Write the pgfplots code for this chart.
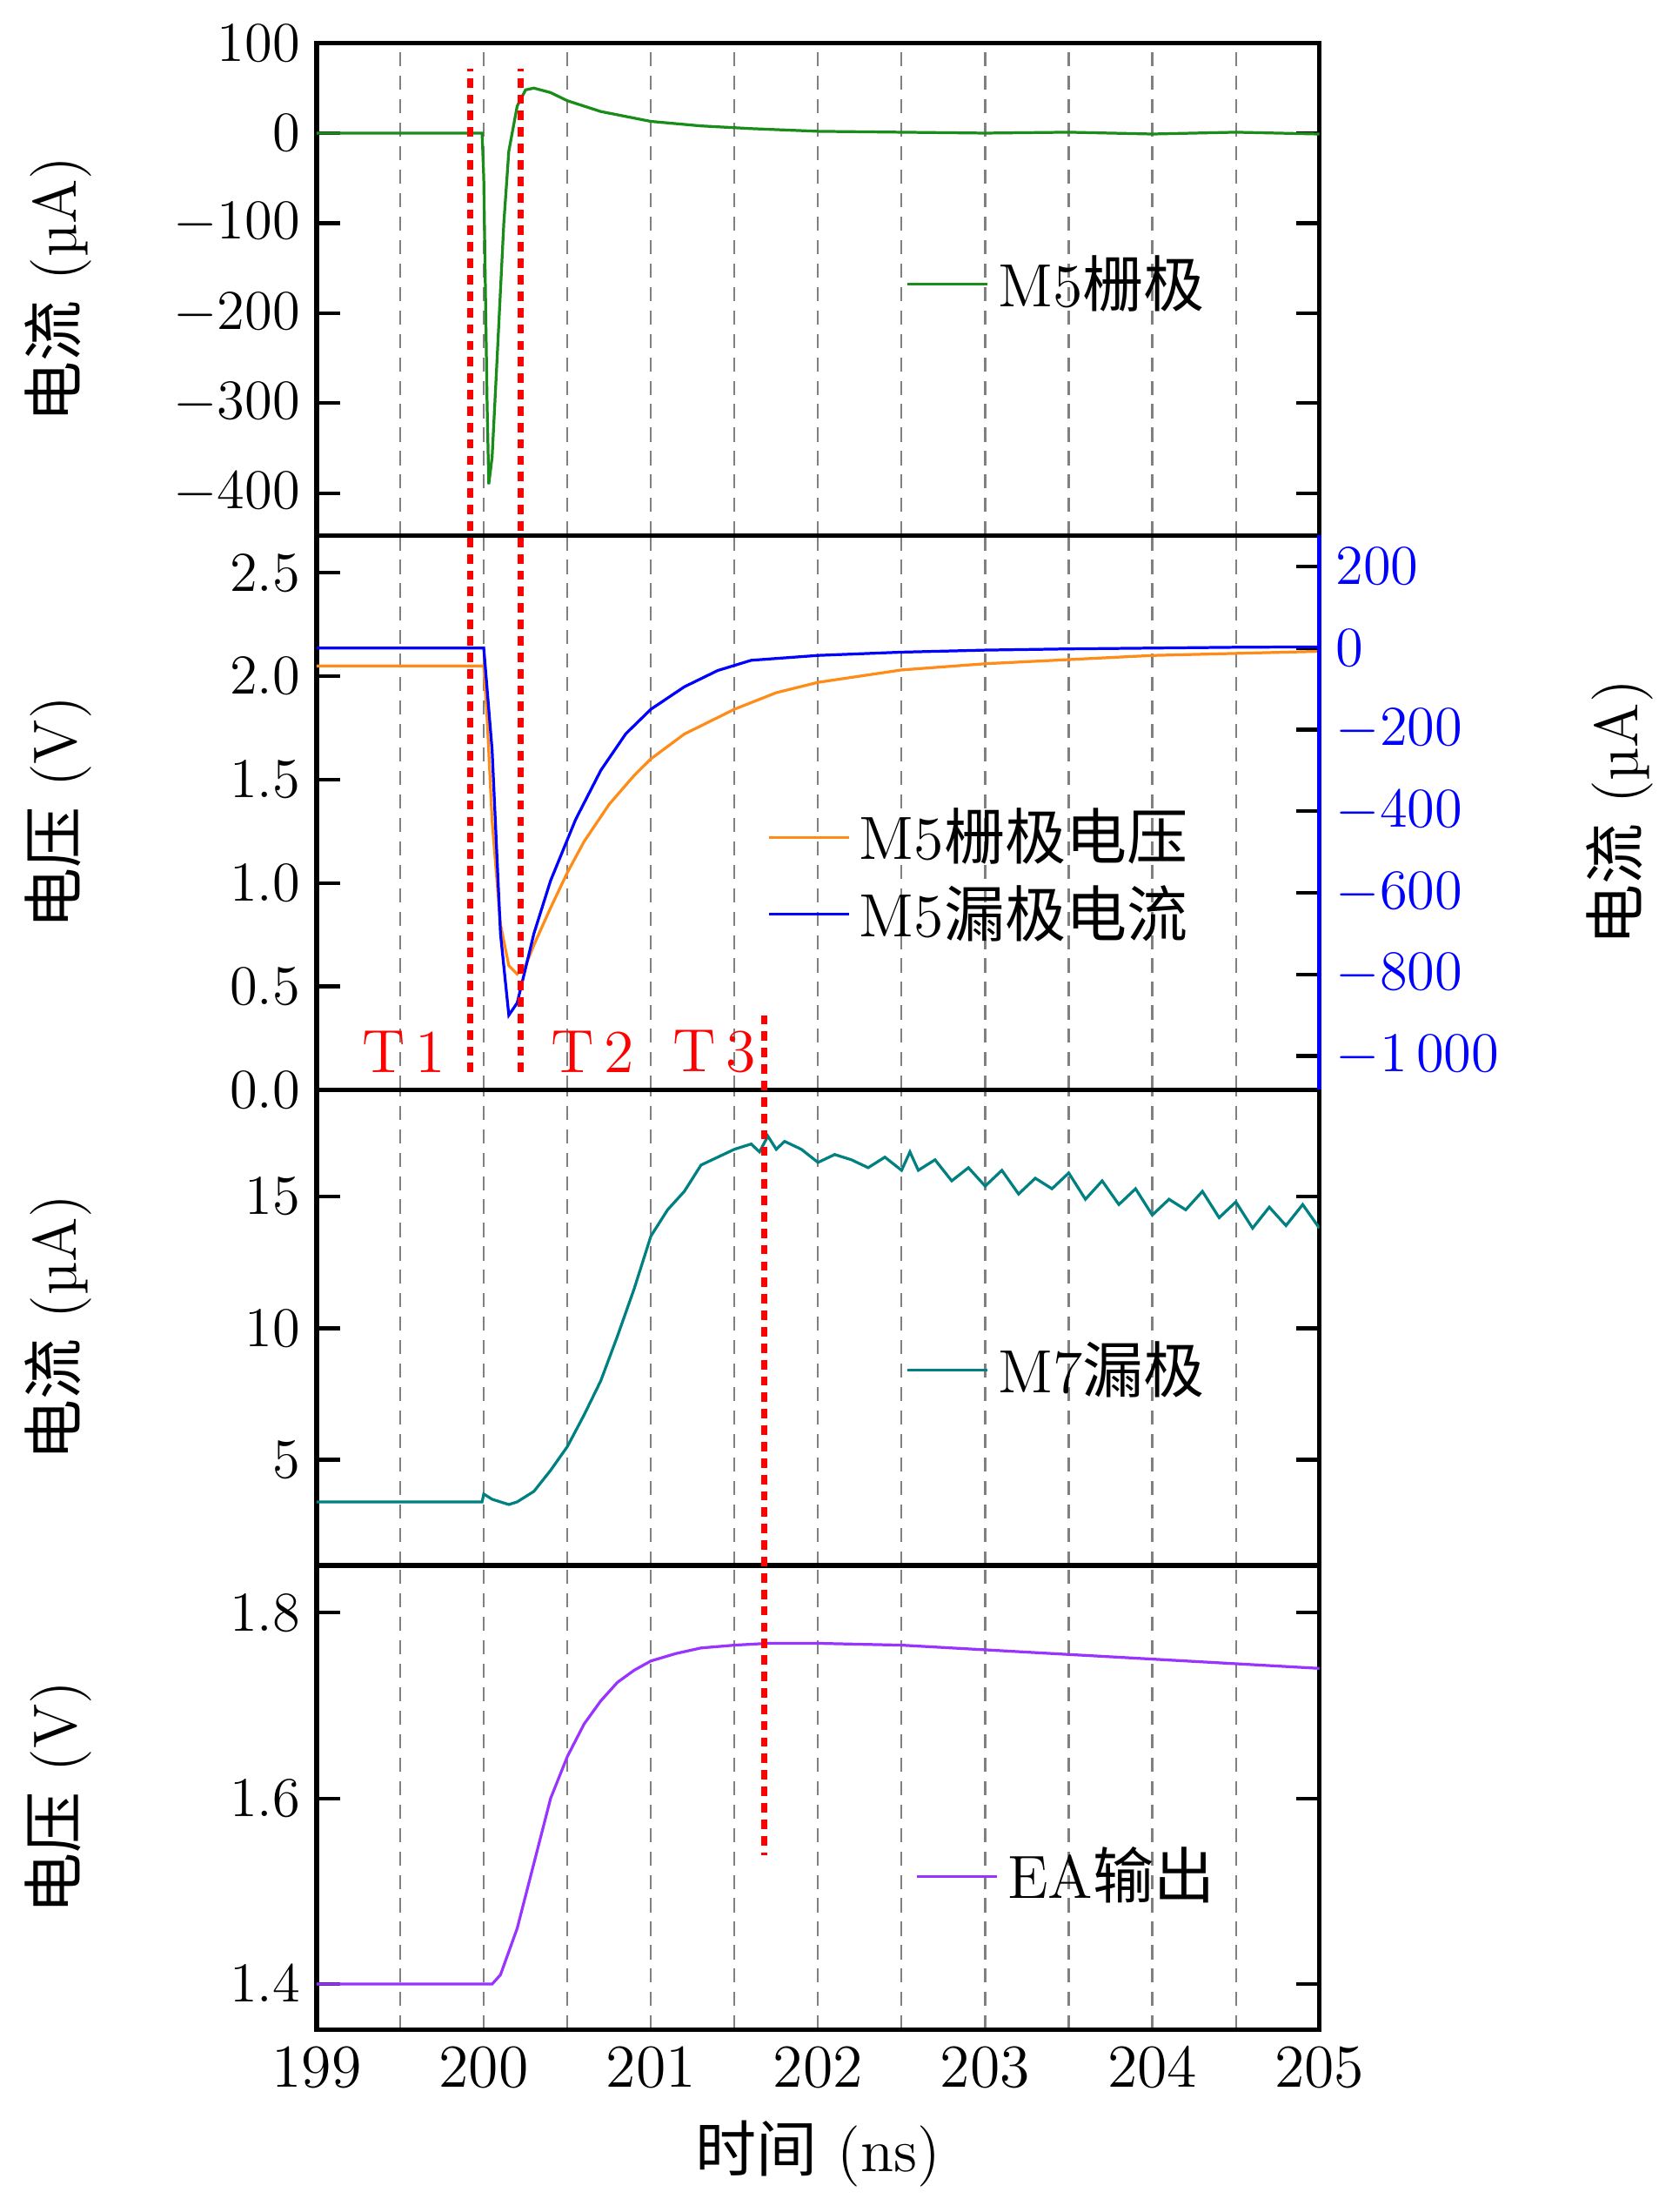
\documentclass[border=2pt]{standalone}
\usepackage{fontspec}
\usepackage{pgfplots}
\pgfplotsset{compat=1.18}
\newfontfamily\cjk{Noto Sans CJK SC}
\definecolor{cg}{rgb}{0.1,0.55,0.1}
\definecolor{co}{rgb}{1,0.55,0.1}
\definecolor{ct}{rgb}{0,0.5,0.5}
\definecolor{cp}{rgb}{0.6,0.2,1}
\begin{document}
\begin{tikzpicture}[font=\fontsize{13}{15}\selectfont]
\pgfplotsset{every axis/.style={scale only axis,width=213.9pt,xmin=199,xmax=205,
  axis line style={line width=1pt},tick style={line width=0.8pt,black},major tick length=5pt,
  xtick={199.5,200,...,204.5},xticklabels={},xmajorgrids,
  grid style={densely dashed,gray,thin},x tick style={draw=none},
  ylabel style={at={(axis description cs:-0.208,0.5)},rotate=0},
  legend style={draw=none,fill=none,font=\fontsize{13}{15}\selectfont,cells={anchor=west}},
  legend cell align=left}}
% Panel 4
\begin{axis}[name=p4,at={(0,0)},anchor=south west,height=99pt,ymin=1.351,ymax=1.851,
  ytick={1.4,1.6,1.8},yticklabel style={/pgf/number format/fixed,/pgf/number format/precision=1,/pgf/number format/fixed zerofill},
  ylabel={{\cjk 电压} (V)},
  extra x ticks={199,...,205},extra x tick labels={199,200,201,202,203,204,205},
  extra x tick style={grid=none,tick style={draw=none}},
  xlabel={{\cjk 时间} (ns)},
  legend style={at={(0.92,0.33)},anchor=east}]
\addplot[cp,semithick] coordinates {(199,1.4)(200.05,1.4)(200.1,1.41)(200.2,1.46)(200.3,1.53)(200.4,1.6)(200.5,1.645)(200.6,1.68)(200.7,1.705)(200.8,1.725)(200.9,1.738)(201,1.748)(201.15,1.756)(201.3,1.762)(201.5,1.765)(201.7,1.767)(202,1.767)(202.5,1.765)(203,1.76)(203.5,1.755)(204,1.75)(204.5,1.745)(205,1.74)};
\addlegendentry{EA{\cjk 输出}}
\end{axis}
% Panel 3
\begin{axis}[name=p3,at={(0,99pt)},anchor=south west,height=101.4pt,ymin=0.99,ymax=19.06,
  ytick={5,10,15},ylabel={{\cjk 电流} (µA)},
  legend style={at={(0.91,0.41)},anchor=east}]
\addplot[ct,semithick] coordinates {(199,3.4)(199.99,3.4)(200,3.7)(200.05,3.5)(200.1,3.4)(200.15,3.3)(200.2,3.4)(200.3,3.8)(200.4,4.6)(200.5,5.5)(200.6,6.7)(200.7,8)(200.8,9.7)(200.9,11.5)(201,13.5)(201.1,14.5)(201.2,15.2)(201.3,16.2)(201.4,16.5)(201.5,16.8)(201.6,17)(201.65,16.7)(201.7,17.3)(201.75,16.8)(201.8,17.1)(201.9,16.8)(202,16.3)(202.1,16.6)(202.2,16.4)(202.3,16.1)(202.4,16.5)(202.5,16)(202.55,16.7)(202.6,16)(202.7,16.4)(202.8,15.6)(202.9,16.1)(203,15.4)(203.1,16)(203.2,15.1)(203.3,15.7)(203.4,15.3)(203.5,15.9)(203.6,14.9)(203.7,15.6)(203.8,14.7)(203.9,15.3)(204,14.3)(204.1,14.9)(204.2,14.5)(204.3,15.2)(204.4,14.2)(204.5,14.8)(204.6,13.8)(204.7,14.6)(204.8,13.9)(204.9,14.7)(205,13.8)};
\addlegendentry{M7{\cjk 漏极}}
\end{axis}
% Panel 1
\begin{axis}[name=p1,at={(0,318.6pt)},anchor=south west,height=105pt,ymin=-447,ymax=100,
  ytick={-400,-300,...,100},ylabel={{\cjk 电流} (µA)},
  legend style={at={(0.91,0.51)},anchor=east}]
\addplot[cg,semithick] coordinates {(199,0)(199.99,0)(200.0,-50)(200.02,-300)(200.03,-390)(200.05,-360)(200.08,-250)(200.12,-100)(200.15,-20)(200.2,30)(200.25,48)(200.3,50)(200.4,45)(200.5,36)(200.7,24)(201,13)(201.3,8)(201.6,5)(202,2)(202.5,1)(203,0)(203.5,1)(204,-1)(204.5,1)(205,-1)};
\addlegendentry{M5{\cjk 栅极}}
\end{axis}
% Panel 2 left
\begin{axis}[name=p2,at={(0,200.4pt)},anchor=south west,height=118.2pt,ymin=0,ymax=2.68,
  axis y line*=left,ytick={0,0.5,...,2.5},
  yticklabel style={/pgf/number format/fixed,/pgf/number format/precision=1,/pgf/number format/fixed zerofill},
  ylabel={{\cjk 电压} (V)}]
\addplot[co,semithick] coordinates {(199,2.05)(200,2.05)(200.02,1.8)(200.05,1.3)(200.1,0.8)(200.15,0.6)(200.2,0.56)(200.25,0.6)(200.3,0.7)(200.4,0.88)(200.5,1.05)(200.6,1.2)(200.75,1.38)(200.9,1.52)(201,1.6)(201.2,1.72)(201.5,1.84)(201.75,1.92)(202,1.97)(202.5,2.03)(203,2.06)(203.5,2.08)(204,2.1)(204.5,2.11)(205,2.12)};
\end{axis}
% Panel 2 right
\begin{axis}[at={(0,200.4pt)},anchor=south west,height=118.2pt,ymin=-1083,ymax=276,
  axis y line*=right,axis x line=none,xmajorgrids=false,clip=false,
  ytick={-1000,-800,...,200},yticklabel style={blue,/pgf/number format/1000 sep={\,}},y axis line style={blue},
  ylabel={{\cjk 电流} (µA)},ylabel style={at={(axis description cs:1.25,0.5)},rotate=0},
  legend style={at={(0.893,0.386)},anchor=east}]
\addlegendimage{co,semithick}\addlegendentry{M5{\cjk 栅极电压}}
\addplot[blue,semithick] coordinates {(199,0)(200,0)(200.05,-250)(200.1,-700)(200.15,-900)(200.2,-870)(200.3,-700)(200.4,-570)(200.55,-420)(200.7,-300)(200.85,-210)(201,-150)(201.2,-95)(201.4,-55)(201.6,-30)(202,-18)(202.5,-10)(203,-5)(203.5,-2)(204,0)(204.5,2)(205,3)};
\addlegendentry{M5{\cjk 漏极电流}}
\draw[red,dash pattern=on 2pt off 1.5pt,line width=1.3pt] (axis cs:199.92,-1040) -- (axis cs:199.92,1420);
\draw[red,dash pattern=on 2pt off 1.5pt,line width=1.3pt] (axis cs:200.22,-1040) -- (axis cs:200.22,1420);
\draw[red,dash pattern=on 2pt off 1.5pt,line width=1.3pt] (axis cs:201.68,-900) -- (axis cs:201.68,-2960);
\node[red] at (axis cs:199.52,-990) {T\,1};
\node[red] at (axis cs:200.65,-990) {T\,2};
\node[red] at (axis cs:201.38,-990) {T\,3};
\end{axis}
\end{tikzpicture}
\end{document}
